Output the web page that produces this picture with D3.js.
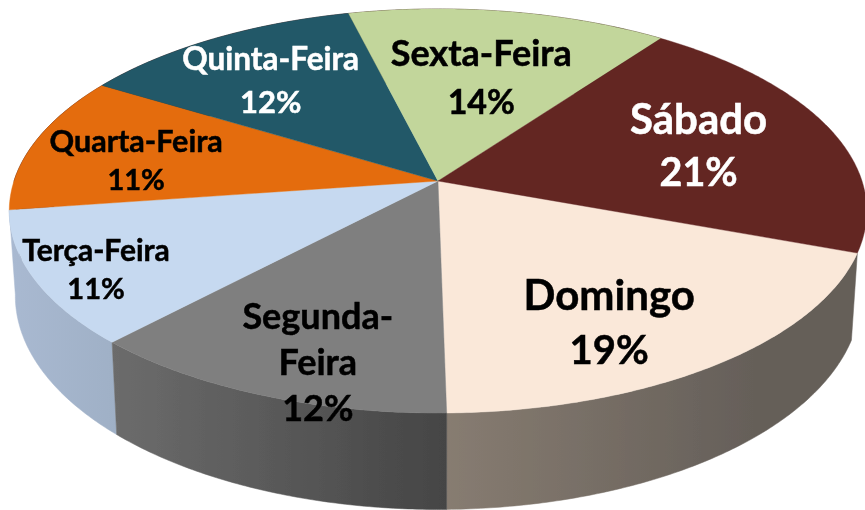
<!DOCTYPE html>
<html><head><meta charset="utf-8">
<script src="https://cdn.jsdelivr.net/npm/d3@7/dist/d3.min.js"></script>
<style>html,body{margin:0;padding:0;background:#fff}svg{display:block}text{font-family:Lato,"Open Sans",sans-serif;font-weight:700;text-anchor:middle}</style>
</head><body><svg id="c" width="865" height="510"></svg>
<script>
// Data
const categories = ["Domingo","Segunda-Feira","Terça-Feira","Quarta-Feira","Quinta-Feira","Sexta-Feira","Sábado"];
const shares = [19.1,12.3,10.7,11,12.4,13.9,20.6];
const labelLines = [["Domingo","19%"],["Segunda-","Feira","12%"],["Terça-Feira","11%"],["Quarta-Feira","11%"],["Quinta-Feira","12%"],["Sexta-Feira","14%"],["Sábado","21%"]];
// Styles
const topColors = ["#fae8d9","#7f7f7f","#c6d9f0","#e46c0a","#215968","#c2d69b","#632523"];
const wallStops = [["#877c71","#655f59"],["#6c6c6c","#454545"],["#a9b9d1","#9fb0c6"],["#a9560a","#a9560a"],["#17424e","#17424e"],["#919f74","#919f74"],["#3a0f0f","#2a0808"]];
const textColors = ["#000","#000","#000","#000","#fff","#000","#fff"];
const fontSizes = [[42,40],[36,36,36],[30,29],[30.5,29],[31.5,31],[36,34],[42,39.5]];
const lineHeights = [54,46,38,38,43,48,53];
const labelShift = [[-2,28],[-11,50],[-86,27],[-37,5],[-16,-4],[-5,12],[4,1]];

// Perspective ellipse geometry
const k = 0.1485;
const rim = {cx:438, cy:181, a:424, b:197.6};
const base = {cx:438, cy:264, a:418, b:209};
const START = 179*Math.PI/180;
function project(g, ang, r=1){
  const u = r*Math.sin(ang), v = -r*Math.cos(ang), d = 1-k*v;
  return [g.cx+g.a*u/d, g.cy+g.b*v/d];
}
const total = d3.sum(shares);
const a00 = START-2*Math.PI*shares[0]/total;
const arcs = d3.pie().sort(null).startAngle(a00).endAngle(a00+2*Math.PI)(shares);
const svg = d3.select("#c");
const defs = svg.append("defs");
defs.append("filter").attr("id","soft").attr("x","-5%").attr("y","-5%").attr("width","110%").attr("height","110%")
  .append("feGaussianBlur").attr("stdDeviation",0.45);
const chart = svg.append("g").attr("filter","url(#soft)");
const line = d3.line();
function arcPts(g,a0,a1){
  const n = Math.max(2,Math.ceil(Math.abs(a1-a0)/0.01));
  return d3.range(n+1).map(i=>project(g,a0+(a1-a0)*i/n));
}
// Walls: back-to-front, front half only
[6,2,0,1].forEach(i=>{
  const s = arcs[i];
  const a0=Math.max(s.startAngle,Math.PI/2), a1=Math.min(s.endAngle,3*Math.PI/2);
  const top=arcPts(rim,a0,a1), bot=arcPts(base,a0,a1);
  const xs=top.concat(bot).map(p=>p[0]);
  const id="w"+i, st=wallStops[i];
  const gr=defs.append("linearGradient").attr("id",id).attr("gradientUnits","userSpaceOnUse")
    .attr("x1",d3.min(xs)).attr("x2",d3.max(xs)).attr("y1",0).attr("y2",0);
  gr.append("stop").attr("offset",0).attr("stop-color",st[0]);
  if(i===0) gr.append("stop").attr("offset",0.75).attr("stop-color",st[1]);
  gr.append("stop").attr("offset",1).attr("stop-color",st[1]);
  chart.append("path").attr("d",line(top.concat(bot.reverse()))+"Z").attr("fill",`url(#${id})`).attr("stroke",`url(#${id})`).attr("stroke-width",0.5);
});
// Top faces
chart.append("g").selectAll("path").data(arcs).join("path")
  .attr("d",d=>line([[rim.cx,rim.cy]].concat(arcPts(rim,d.startAngle,d.endAngle)))+"Z")
  .attr("fill",(d,i)=>topColors[i]).attr("stroke",(d,i)=>topColors[i]).attr("stroke-width",0.4);
// Labels
arcs.forEach((d,i)=>{
  const p=project(rim,(d.startAngle+d.endAngle)/2,0.65);
  const cx=p[0]+labelShift[i][0], cy=p[1]+labelShift[i][1];
  const L=labelLines[i], n=L.length;
  L.forEach((t,j)=>{
    chart.append("text").attr("x",cx).attr("y",cy+(j-(n-1)/2)*lineHeights[i]).attr("dy","0.35em")
      .attr("font-size",fontSizes[i][j]).attr("fill",textColors[i])
      .attr("stroke",textColors[i]).attr("stroke-width",0.5).text(t);
  });
});
</script></body></html>
